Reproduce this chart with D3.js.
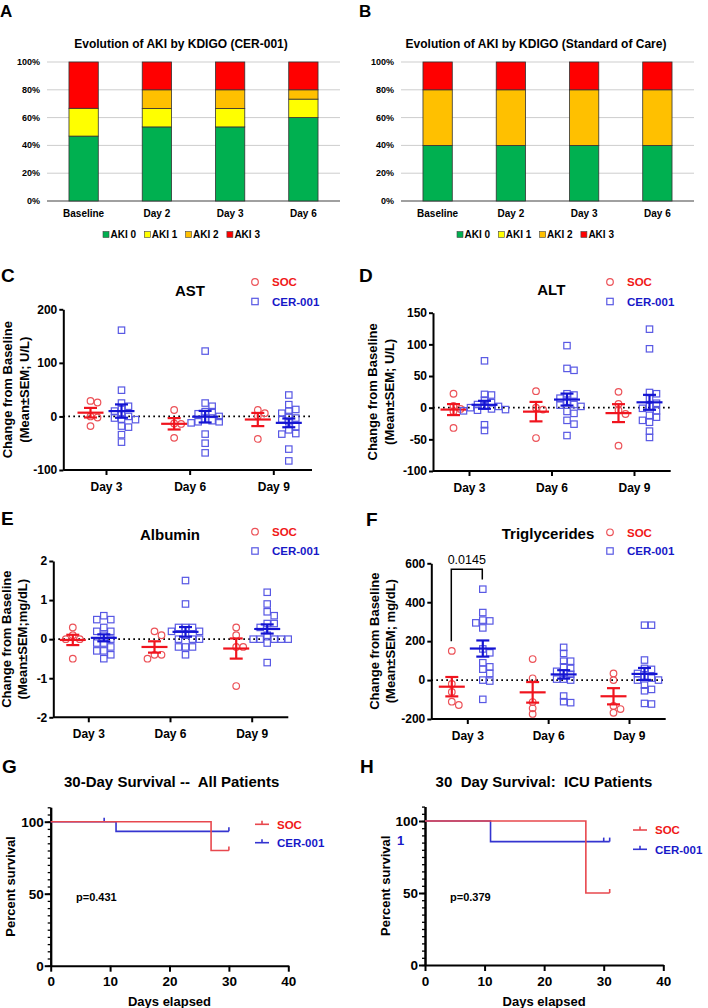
<!DOCTYPE html>
<html>
<head>
<meta charset="utf-8">
<script src="https://cdn.jsdelivr.net/npm/d3@7"></script>
<style>
  body { margin: 0; background: #fff; }
  svg { font-family: "Liberation Sans", Arial, sans-serif; }
  text { white-space: pre; }
</style>
</head>
<body>
<div id="fig"></div>
<script>
// ---- data ----
// A / B : AKI stage share (%)
let akiCategories = ["Baseline", "Day 2", "Day 3", "Day 6"];
let akiStages = ["AKI 0", "AKI 1", "AKI 2", "AKI 3"];
let akiColors = ["#00B050", "#FFFF00", "#FFC000", "#FF0000"];
let akiTicks = [0, 20, 40, 60, 80, 100];
let akiCer = [[46.7, 20, 0, 33.3], [53.3, 13.3, 13.4, 20], [53.3, 13.3, 13.4, 20], [60, 13.3, 6.7, 20]];
let akiSoc = [[40, 0, 40, 20], [40, 0, 40, 20], [40, 0, 40, 20], [40, 0, 40, 20]];

// C - F : change from baseline, one array per day
let labDays = ["Day 3", "Day 6", "Day 9"];
let astTicks = [-100, 0, 100, 200];
let astSoc = [[29, 26, 0, -2, -18], [12, -13, -14, -40], [12, 6, 1, -42]];
let astCer = [[161, 49, 25, 19, 15, 10, 5, 0, -3, -5, -6, -18, -20, -34, -48],
              [122, 25, 19, 9, 9, 5, 0, -5, -8, -10, -10, -12, -33, -50, -68],
              [40, 22, 13, 10, 6, 0, -3, -5, -10, -19, -25, -32, -33, -61, -83]];
let altTicks = [-100, -50, 0, 50, 100, 150];
let altSoc = [[22, 3, -2, -6, -32], [26, 0, -3, -48], [25, 6, -4, -10, -60]];
let altCer = [[74, 21, 20, 12, 8, 5, 3, 2, 0, -2, -3, -4, -5, -27, -36],
              [98, 62, 59, 22, 20, 15, 10, 5, 4, 2, -6, -9, -20, -26, -44],
              [124, 93, 24, 22, 15, 7, 2, -1, -5, -12, -15, -20, -23, -37, -47]];
let albTicks = [-2, -1, 0, 1, 2];
let albSoc = [[0.3, 0.1, 0.0, 0.0, -0.5], [0.2, 0.1, -0.4, -0.4, -0.5], [0.3, 0.1, -0.2, -0.2, -1.2]];
let albCer = [[0.6, 0.5, 0.5, 0.3, 0.2, 0.2, 0.1, 0.0, -0.1, -0.1, -0.2, -0.3, -0.3, -0.4, -0.5],
              [1.5, 0.9, 0.3, 0.3, 0.3, 0.2, 0.2, 0.1, 0.0, 0.0, 0.0, -0.2, -0.2, -0.2, -0.4],
              [1.2, 0.9, 0.7, 0.6, 0.4, 0.4, 0.3, 0.1, 0.0, 0.0, 0.0, 0.0, 0.0, -0.1, -0.6]];
let tgTicks = [-200, 0, 200, 400, 600];
let tgSoc = [[150, -20, -61, -111, -128], [108, 9, -113, -145, -174], [34, 0, -133, -149, -168]];
let tgCer = [[467, 347, 308, 304, 294, 268, 160, 140, 89, 68, 56, 34, 0, -5, -99],
             [168, 137, 97, 97, 68, 60, 45, 34, 30, 5, 5, 0, -82, -111, -116],
             [282, 282, 103, 60, 55, 34, 20, 10, 0, 0, -26, -48, -55, -120, -123]];
// significance bracket Day 3 (value units): left foot, right foot, top
let tgBracket = [200, 517, 569];

// G / H : Kaplan-Meier steps
let survTicks = [0, 10, 20, 30, 40];
let allSocDays = [0, 27, 30], allSocSurv = [100, 80, 80], allSocCens = [30];
let allCerDays = [0, 11, 30], allCerSurv = [100, 93.3, 93.3], allCerCens = [9, 30];
let icuSocDays = [0, 27, 31], icuSocSurv = [100, 50, 50], icuSocCens = [31];
let icuCerDays = [0, 11, 31], icuCerSurv = [100, 85.7, 85.7], icuCerCens = [30, 31];

let socColor = "#F0141E", cerColor = "#1414D2";
let socDot = "#EC5258", cerDot = "#5858E4";

let svg = d3.select("#fig").append("svg")
  .attr("width", 708)
  .attr("height", 1008);

function txt(g, s, x, y, size, opts) {
  opts = opts || {};
  return g.append("text")
    .attr("x", x).attr("y", y)
    .attr("font-size", size + "px")
    .attr("font-weight", opts.weight || "bold")
    .attr("fill", opts.fill || "#000")
    .attr("text-anchor", opts.anchor || "start")
    .text(s);
}

// panel letters
[["A", 0, 17, 17], ["B", 359, 17, 17], ["C", 1, 282, 19], ["D", 359, 282, 19],
 ["E", 1, 525, 19], ["F", 366, 526, 19], ["G", 2, 773, 19], ["H", 360, 773, 19]]
  .forEach(d => txt(svg, d[0], d[1], d[2], d[3]));

// ---- A / B stacked bars ----
function drawAki(o, rows) {
  let g = svg.append("g");
  let x = d3.scaleBand().domain(akiCategories).range([o.left, o.right])
    .paddingInner(0.6).paddingOuter(0.3);
  let y = d3.scaleLinear().domain([0, 100]).range([201, 62]);

  g.selectAll(null).data(akiTicks).enter().append("line")
    .attr("x1", o.left).attr("x2", o.right)
    .attr("y1", d => y(d)).attr("y2", d => y(d))
    .attr("stroke", d => d === 0 ? "#808080" : "#cdcdcd")
    .attr("stroke-width", d => d === 0 ? 1.3 : 1);

  g.selectAll(null).data(akiTicks).enter().append("text")
    .attr("x", o.left - 7).attr("y", d => y(d) + 3)
    .attr("text-anchor", "end").attr("font-size", "9px").attr("font-weight", "bold")
    .text(d => d + "%");

  let table = akiCategories.map((c, i) => {
    let r = {cat: c};
    akiStages.forEach((s, j) => r[s] = rows[i][j]);
    return r;
  });
  let series = d3.stack().keys(akiStages)(table);

  g.selectAll(null).data(series).enter().append("g")
    .attr("fill", (d, i) => akiColors[i])
    .selectAll("rect")
    .data(d => d.filter(p => p[1] - p[0] > 0))
    .enter().append("rect")
    .attr("x", d => x(d.data.cat))
    .attr("width", x.bandwidth())
    .attr("y", d => y(d[1]))
    .attr("height", d => y(d[0]) - y(d[1]))
    .attr("stroke", "#333").attr("stroke-width", 0.8);

  g.selectAll(null).data(akiCategories).enter().append("text")
    .attr("x", d => x(d) + x.bandwidth() / 2).attr("y", 217)
    .attr("text-anchor", "middle").attr("font-size", "10px").attr("font-weight", "bold")
    .text(d => d);

  txt(g, o.title, o.titleX, 47.5, 12, {anchor: "middle"});

  // legend
  let lg = g.selectAll(null).data(akiStages).enter().append("g")
    .attr("transform", (d, i) => `translate(${o.legX + i * 41.3},234.5)`);
  lg.append("rect").attr("x", 0).attr("y", -3).attr("width", 6).attr("height", 6)
    .attr("fill", (d, i) => akiColors[i]).attr("stroke", "#444").attr("stroke-width", 0.6);
  lg.append("text").attr("x", 7.5).attr("y", 3.6)
    .attr("font-size", "10px").attr("font-weight", "bold").text(d => d);
}

drawAki({left: 47, right: 340, title: "Evolution of AKI by KDIGO (CER-001)", titleX: 181, legX: 103}, akiCer);
drawAki({left: 401, right: 694, title: "Evolution of AKI by KDIGO (Standard of Care)", titleX: 536, legX: 457}, akiSoc);

// ---- C - F dot plots ----
// deterministic swarm: walk outwards from the centre until the overlap is small
function swarm(values, cx, y) {
  let placed = [];
  let order = values.map((v, i) => i).sort((a, b) => values[b] - values[a]);
  order.forEach(i => {
    let py = y(values[i]);
    for (let k = 0; k < 40; k++) {
      let off = Math.ceil(k / 2) * 3.5 * (k % 2 ? 1 : -1);
      let px = cx + off;
      if (!placed.some(p => Math.abs(p.x - px) < 5.2 && Math.abs(p.y - py) < 5.2)) {
        placed.push({x: px, y: py});
        break;
      }
    }
  });
  return placed;
}

function drawDots(o) {
  let g = svg.append("g");
  let y = d3.scaleLinear().domain(o.domain).range([o.bottom, o.top]);
  let x = d3.scalePoint().domain(labDays).range(o.dayRange);

  // dotted zero line
  g.append("line")
    .attr("x1", o.left).attr("x2", o.right)
    .attr("y1", y(0)).attr("y2", y(0))
    .attr("stroke", "#000").attr("stroke-width", 1.7)
    .attr("stroke-dasharray", "1.7,3.3");

  let ya = g.append("g")
    .attr("transform", `translate(${o.left},0)`)
    .call(d3.axisLeft(y).tickValues(o.ticks).tickSize(4).tickSizeOuter(0).tickPadding(2)
      .tickFormat(d => String(d)));
  let xa = g.append("g")
    .attr("transform", `translate(0,${o.bottom})`)
    .call(d3.axisBottom(x).tickSize(5).tickSizeOuter(0).tickPadding(7));
  xa.select(".domain").attr("d", `M${o.left},0H${o.right}`);
  [ya, xa].forEach(a => {
    a.selectAll("path, line").attr("stroke", "#000").attr("stroke-width", 2);
    a.selectAll("text").attr("font-size", "12px").attr("font-weight", "bold")
      .attr("font-family", "Liberation Sans, Arial, sans-serif").attr("fill", "#000");
  });

  labDays.forEach((day, i) => {
    [[o.soc[i], -15.5, "soc"], [o.cer[i], 15.5, "cer"]].forEach(([vals, dx, grp]) => {
      let cx = x(day) + dx;
      let pts = swarm(vals, cx, y);
      if (grp === "soc") {
        g.selectAll(null).data(pts).enter().append("circle")
          .attr("cx", d => d.x).attr("cy", d => d.y).attr("r", 3.3)
          .attr("fill", "none").attr("stroke", socDot).attr("stroke-width", 1.2);
      } else {
        g.selectAll(null).data(pts).enter().append("rect")
          .attr("x", d => d.x - 3.2).attr("y", d => d.y - 3.2)
          .attr("width", 6.4).attr("height", 6.4)
          .attr("fill", "none").attr("stroke", cerDot).attr("stroke-width", 1.2);
      }
      // mean +- SEM
      let m = d3.mean(vals);
      let sem = d3.deviation(vals) / Math.sqrt(vals.length);
      let col = grp === "soc" ? socColor : cerColor;
      let eg = g.append("g").attr("stroke", col).attr("stroke-width", 2.2);
      eg.append("line").attr("x1", cx - 13).attr("x2", cx + 13).attr("y1", y(m)).attr("y2", y(m));
      eg.append("line").attr("x1", cx).attr("x2", cx).attr("y1", y(m - sem)).attr("y2", y(m + sem));
      [m - sem, m + sem].forEach(v => {
        eg.append("line").attr("x1", cx - 6.5).attr("x2", cx + 6.5).attr("y1", y(v)).attr("y2", y(v));
      });
    });
  });

  txt(g, o.title, o.titleX, o.titleY + 5.3, 15, {anchor: "middle"});

  // legend
  g.append("circle").attr("cx", o.legX).attr("cy", o.legY[0]).attr("r", 3.3)
    .attr("fill", "none").attr("stroke", socDot).attr("stroke-width", 1.2);
  g.append("rect").attr("x", o.legX - 3.2).attr("y", o.legY[1] - 3.2).attr("width", 6.4).attr("height", 6.4)
    .attr("fill", "none").attr("stroke", cerDot).attr("stroke-width", 1.2);
  txt(g, "SOC", o.legX + 17, o.legY[0] + 4.2, 11.5, {fill: "#F01818"});
  txt(g, "CER-001", o.legX + 17, o.legY[1] + 4.2, 11.5, {fill: "#1818C8"});

  // y label
  let cy = (o.top + o.bottom) / 2;
  ["Change from Baseline", o.unit].forEach((s, i) => {
    g.append("text")
      .attr("transform", `translate(${o.ylabX[i]},${cy}) rotate(-90)`)
      .attr("dy", "0.36em").attr("text-anchor", "middle")
      .attr("font-size", "13px").attr("font-weight", "bold").text(s);
  });
  return {x: x, y: y, g: g};
}

drawDots({left: 63.3, right: 312, top: 309.3, bottom: 470, domain: [-100, 200], ticks: astTicks,
  dayRange: [106, 273.3], soc: astSoc, cer: astCer, title: "AST", titleX: 190, titleY: 291,
  legX: 255, legY: [282, 301.5], unit: "(Mean\u00b1SEM; U/L)", ylabX: [7, 24]});

drawDots({left: 433, right: 670.7, top: 312.7, bottom: 471, domain: [-100, 150], ticks: altTicks,
  dayRange: [469, 634], soc: altSoc, cer: altCer, title: "ALT", titleX: 551.3, titleY: 290,
  legX: 610, legY: [282, 301.5], unit: "(Mean\u00b1SEM; U/L)", ylabX: [372.3, 389]});

drawDots({left: 53.3, right: 288.3, top: 561, bottom: 717.3, domain: [-2, 2], ticks: albTicks,
  dayRange: [88.3, 251.7], soc: albSoc, cer: albCer, title: "Albumin", titleX: 170, titleY: 535,
  legX: 255, legY: [531.7, 551], unit: "(Mean\u00b1SEM;mg/dL)", ylabX: [6.5, 22.5]});

let tg = drawDots({left: 431.3, right: 665.7, top: 563.3, bottom: 719, domain: [-200, 600], ticks: tgTicks,
  dayRange: [467.3, 629], soc: tgSoc, cer: tgCer, title: "Triglycerides", titleX: 548, titleY: 533.3,
  legX: 610, legY: [532.3, 551], unit: "(Mean\u00b1SEM; mg/dL)", ylabX: [374, 390.5]});

// significance bracket
let bx0 = tg.x("Day 3") - 16, bx1 = tg.x("Day 3") + 15;
tg.g.append("path")
  .attr("d", `M${bx0},${tg.y(tgBracket[0])}V${tg.y(tgBracket[2])}H${bx1}V${tg.y(tgBracket[1])}`)
  .attr("fill", "none").attr("stroke", "#000").attr("stroke-width", 1.5);
txt(tg.g, "0.0145", (bx0 + bx1) / 2, tg.y(tgBracket[2]) - 5.5, 12.5, {anchor: "middle", weight: "normal"});

// ---- G / H survival ----
function drawSurv(o) {
  let g = svg.append("g");
  let x = d3.scaleLinear().domain([0, 40]).range([o.left, o.right]);
  let y = d3.scaleLinear().domain([0, 110]).range([o.bottom, o.bottom - 110 * 1.44]);

  let minor = g.append("g").attr("transform", `translate(${o.left},0)`)
    .call(d3.axisLeft(y).tickValues(d3.range(0, 111, 5)).tickSize(3).tickSizeOuter(0).tickFormat(""));
  let major = g.append("g").attr("transform", `translate(${o.left},0)`)
    .call(d3.axisLeft(y).tickValues([0, 50, 100]).tickSize(6).tickSizeOuter(0).tickPadding(1));
  let xa = g.append("g").attr("transform", `translate(0,${o.bottom})`)
    .call(d3.axisBottom(x).tickValues(survTicks).tickSize(6).tickSizeOuter(0).tickPadding(5));
  [minor, major, xa].forEach(a => {
    a.selectAll("path, line").attr("stroke", "#000").attr("stroke-width", 2);
    a.selectAll("text").attr("font-size", "13.5px").attr("font-weight", "bold")
      .attr("font-family", "Liberation Sans, Arial, sans-serif").attr("fill", "#000");
  });
  minor.selectAll("line").attr("stroke-width", 1.3);

  let line = d3.line().x(d => x(d[0])).y(d => y(d[1])).curve(d3.curveStepAfter);
  [[o.cer, "#3434D0"], [o.soc, "#E8484E"]].forEach(([s, col]) => {
    let pts = s.days.map((t, i) => [t, s.surv[i]]);
    g.append("path").datum(pts).attr("d", line)
      .attr("fill", "none").attr("stroke", col).attr("stroke-width", 1.6);
    // censor ticks
    g.selectAll(null).data(s.cens).enter().append("line")
      .attr("x1", d => x(d)).attr("x2", d => x(d))
      .attr("y1", d => y(s.surv[d3.bisectRight(s.days, d) - 1]))
      .attr("y2", d => y(s.surv[d3.bisectRight(s.days, d) - 1]) - 4)
      .attr("stroke", col).attr("stroke-width", 1.6);
  });

  txt(g, o.title, o.titleX, 787, 15, {anchor: "middle"});
  txt(g, o.p, o.pX, 900.5, 11);
  txt(g, "Days elapsed", (o.left + o.right) / 2, 1005.5, 13, {anchor: "middle"});
  g.append("text")
    .attr("transform", `translate(${o.ylabX},${y(55)}) rotate(-90)`)
    .attr("dy", "0.36em").attr("text-anchor", "middle")
    .attr("font-size", "13px").attr("font-weight", "bold").text("Percent survival");

  // legend
  [["SOC", "#E8484E", "#F01818"], ["CER-001", "#3434D0", "#1818C8"]].forEach((d, i) => {
    let ly = o.legY[i];
    g.append("line").attr("x1", o.legX[0]).attr("x2", o.legX[1]).attr("y1", ly).attr("y2", ly)
      .attr("stroke", d[1]).attr("stroke-width", 1.6);
    g.append("line").attr("x1", (o.legX[0] + o.legX[1]) / 2).attr("x2", (o.legX[0] + o.legX[1]) / 2)
      .attr("y1", ly).attr("y2", ly - 3.5).attr("stroke", d[1]).attr("stroke-width", 1.6);
    txt(g, d[0], o.legX[1] + 8, ly + 4.2, 11.5, {fill: d[2]});
  });
  return g;
}

drawSurv({left: 50.7, right: 288.3, bottom: 965.7, title: "30-Day Survival --  All Patients", titleX: 171.7,
  soc: {days: allSocDays, surv: allSocSurv, cens: allSocCens},
  cer: {days: allCerDays, surv: allCerSurv, cens: allCerCens},
  p: "p=0.431", pX: 76, ylabX: 10, legX: [255, 269], legY: [824.3, 842.7]});

let h = drawSurv({left: 425, right: 663.3, bottom: 965, title: "30  Day Survival:  ICU Patients", titleX: 544,
  soc: {days: icuSocDays, surv: icuSocSurv, cens: icuSocCens},
  cer: {days: icuCerDays, surv: icuCerSurv, cens: icuCerCens},
  p: "p=0.379", pX: 450, ylabX: 385.7, legX: [633, 647], legY: [830, 849.3]});
txt(h, "1", 400.7, 845, 13, {fill: "#1818C8", anchor: "middle"});
</script>
</body>
</html>
